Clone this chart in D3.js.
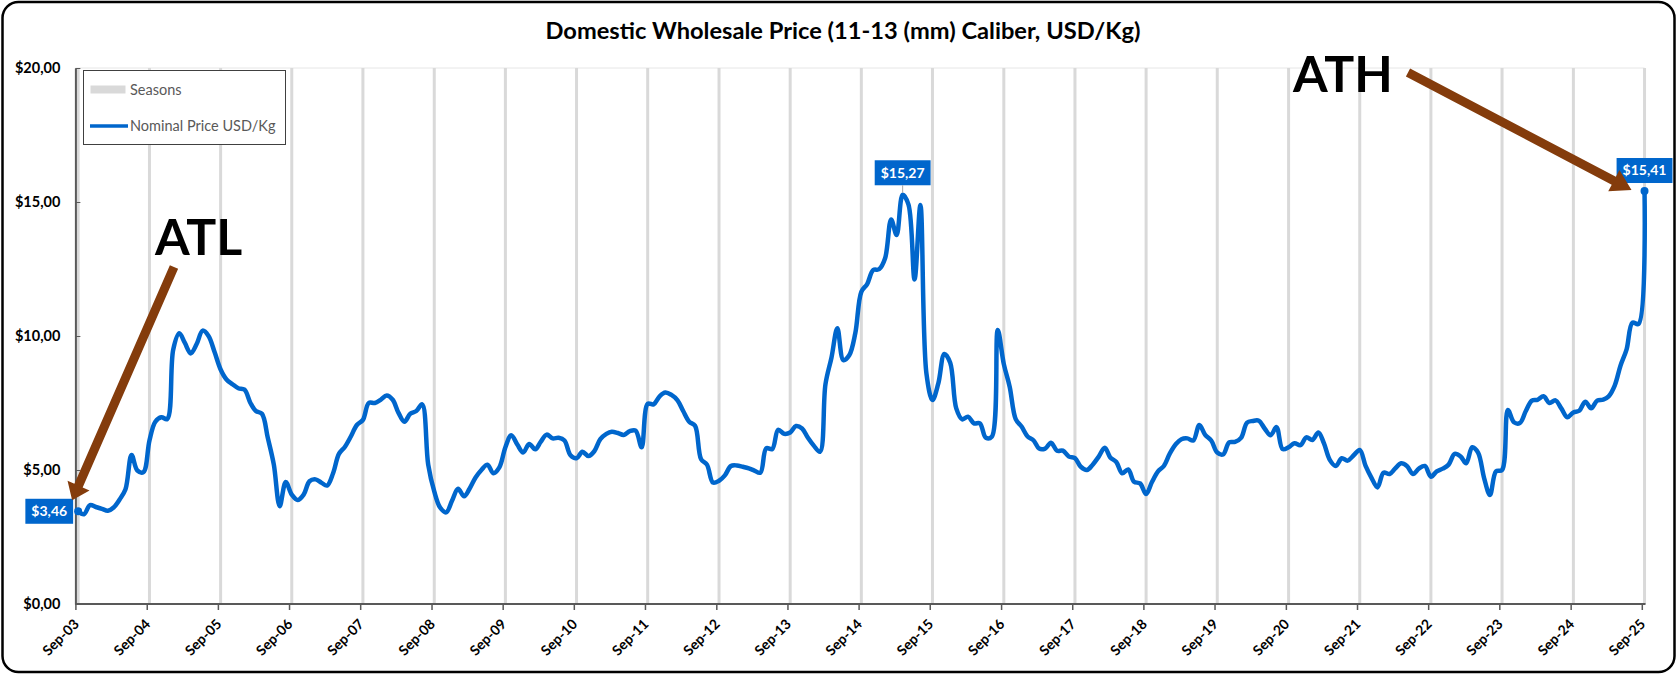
<!DOCTYPE html>
<html>
<head>
<meta charset="utf-8">
<script src="https://cdn.jsdelivr.net/npm/d3@7"></script>
<style>
body { margin: 0; background: #fff; }
svg text { font-family: Lato, "Open Sans", sans-serif; }
</style>
</head>
<body>
<svg id="chart" width="1677" height="675"></svg>
<script>
// Nominal price USD/Kg, one value per month starting Sep-03
var priceSep03 = [3.46, 3.35, 3.69, 3.62, 3.55, 3.48, 3.6, 3.9, 4.28, 5.56, 4.98, 4.92,
    6.1, 6.8, 6.97, 6.9, 9.5, 10.1, 9.75, 9.35, 9.7, 10.2, 10.0, 9.4,
    8.75, 8.38, 8.2, 8.05, 8.0, 7.5, 7.2, 7.1, 6.2, 5.2, 3.65, 4.55,
    4.08, 3.88, 4.08, 4.58, 4.65, 4.52, 4.42, 4.88, 5.6, 5.87, 6.25, 6.68,
    6.87, 7.5, 7.5, 7.62, 7.78, 7.62, 7.14, 6.8, 7.1, 7.2, 7.45, 5.2];
var priceSep08 = [4.2, 3.6, 3.42, 3.85, 4.3, 4.02, 4.3, 4.72, 5.0, 5.2, 4.88, 5.1,
    5.85, 6.3, 5.95, 5.65, 5.97, 5.77, 6.05, 6.32, 6.18, 6.2, 6.1, 5.55,
    5.44, 5.68, 5.52, 5.7, 6.15, 6.35, 6.43, 6.38, 6.31, 6.45, 6.47, 5.85,
    7.47, 7.45, 7.75, 7.89, 7.8, 7.6, 7.2, 6.8, 6.65, 5.4, 5.2, 4.53,
    4.6, 4.8, 5.15, 5.17, 5.12, 5.06, 4.98, 4.9, 5.81, 5.78, 6.5, 6.35];
var priceSep13 = [6.4, 6.64, 6.55, 6.2, 5.9, 5.68, 8.2, 9.2, 10.29, 9.1, 9.28, 10.1,
    11.65, 11.94, 12.46, 12.49, 12.9, 14.35, 13.77, 15.27, 14.9, 12.11, 14.89, 8.6,
    7.61, 8.23, 9.33, 9.0, 7.3, 6.89, 6.99, 6.74, 6.74, 6.2, 6.24, 10.22,
    8.95, 8.11, 6.9, 6.62, 6.25, 6.1, 5.8, 5.8, 6.02, 5.72, 5.72, 5.5,
    5.44, 5.12, 5.0, 5.2, 5.5, 5.83, 5.47, 5.3, 4.88, 5.02, 4.56, 4.5];
var priceSep18 = [4.1, 4.55, 4.95, 5.15, 5.62, 5.97, 6.15, 6.18, 6.1, 6.68, 6.31, 6.1,
    5.65, 5.58, 6.03, 6.05, 6.2, 6.77, 6.83, 6.84, 6.55, 6.3, 6.6, 5.78,
    5.85, 6.0, 5.93, 6.22, 6.12, 6.4, 6.0, 5.37, 5.15, 5.44, 5.35, 5.55,
    5.75, 5.15, 4.7, 4.35, 4.9, 4.85, 5.05, 5.25, 5.15, 4.85, 5.05, 5.15,
    4.75, 4.95, 5.05, 5.2, 5.6, 5.5, 5.25, 5.85, 5.65, 4.7, 4.07, 4.95];
var priceSep23 = [5.0, 7.24, 6.78, 6.75, 7.2, 7.59, 7.62, 7.75, 7.5, 7.6, 7.3, 6.97,
    7.15, 7.21, 7.55, 7.3, 7.59, 7.63, 7.75, 8.15, 8.9, 9.5, 10.5, 10.45, 15.41];

var seasonLabels = ["Sep-03", "Sep-04", "Sep-05", "Sep-06", "Sep-07", "Sep-08", "Sep-09", "Sep-10",
    "Sep-11", "Sep-12", "Sep-13", "Sep-14", "Sep-15", "Sep-16", "Sep-17", "Sep-18", "Sep-19",
    "Sep-20", "Sep-21", "Sep-22", "Sep-23", "Sep-24", "Sep-25"];
var yTickValues = [0, 5, 10, 15, 20];
var legendLabels = ["Seasons", "Nominal Price USD/Kg"];
var calloutLabels = ["ATL", "ATH"];

var BLUE = "#0066cc", BROWN = "#843c0c";

var price = priceSep03.concat(priceSep08, priceSep13, priceSep18, priceSep23);
var series = price.map(function(v, i) { return { date: new Date(2003, 8 + i, 15), value: v }; });

var locale = d3.formatLocale({ decimal: ",", thousands: ".", grouping: [3], currency: ["$", ""] });
var money = locale.format("$.2f");

var svg = d3.select("#chart");

// cadre arrondi
svg.append("rect")
.attr("x", 2.5).attr("y", 2).attr("width", 1672).attr("height", 670)
.attr("rx", 16).attr("ry", 16)
.attr("fill", "#fff").attr("stroke", "#000").attr("stroke-width", 2.5);

var x = d3.scaleTime()
.domain([new Date(2003, 8, 1), new Date(2025, 8, 1)])
.range([75.4, 1641.8]);

var y = d3.scaleLinear()
.domain([0, 20])
.range([604, 68]);

// titre
svg.append("text")
.attr("x", 843).attr("y", 39)
.attr("text-anchor", "middle")
.attr("textLength", 595).attr("lengthAdjust", "spacingAndGlyphs")
.style("font-size", "22px").style("font-weight", "bold")
.attr("fill", "#000")
.text("Domestic Wholesale Price (11-13 (mm) Caliber, USD/Kg)");

// ligne du haut ($20)
svg.append("line")
.attr("x1", x.range()[0]).attr("x2", x(new Date(2025, 8, 15)))
.attr("y1", y(20)).attr("y2", y(20))
.attr("stroke", "#e6e6e6").attr("stroke-width", 1);

// barres "Seasons" : une par septembre
svg.append("g").selectAll("line")
.data(seasonLabels)
.enter().append("line")
.attr("x1", function(d, i) { return x(new Date(2003 + i, 8, 15)); })
.attr("x2", function(d, i) { return x(new Date(2003 + i, 8, 15)); })
.attr("y1", y(20)).attr("y2", y(0))
.attr("stroke", "#d9d9d9").attr("stroke-width", 3);

// axe X
var xAxis = svg.append("g")
.attr("transform", "translate(0," + y(0) + ")")
.call(d3.axisBottom(x)
    .tickValues(seasonLabels.map(function(d, i) { return new Date(2003 + i, 8, 1); }))
    .tickFormat(function(d, i) { return seasonLabels[i]; })
    .tickSizeInner(6).tickSizeOuter(0));
xAxis.select(".domain").attr("stroke", "#595959").attr("stroke-width", 2)
.attr("d", "M" + x.range()[0] + ",0H" + (x(new Date(2025, 8, 15)) + 1));
xAxis.selectAll(".tick line").attr("stroke", "#595959").attr("stroke-width", 1.5);
xAxis.selectAll(".tick text")
.attr("x", 0).attr("y", 0).attr("dy", 0)
.attr("transform", "translate(4,21) rotate(-45)")
.style("text-anchor", "end")
.style("font-size", "14px").style("font-weight", "bold")
.attr("fill", "#000");

// axe Y
var yAxis = svg.append("g")
.attr("transform", "translate(" + x.range()[0] + ",0)")
.call(d3.axisLeft(y)
    .tickValues(yTickValues)
    .tickFormat(money)
    .tickSizeInner(-5).tickSizeOuter(0).tickPadding(15));
yAxis.select(".domain").attr("stroke", "#595959").attr("stroke-width", 2);
yAxis.selectAll(".tick line").attr("stroke", "#595959");
yAxis.selectAll(".tick text")
.style("font-size", "14.5px").style("font-weight", "bold")
.attr("fill", "#000");

// courbe du prix
var line = d3.line()
.x(function(d) { return x(d.date); })
.y(function(d) { return y(d.value); })
.curve(d3.curveCatmullRom);

svg.append("path")
.datum(series)
.attr("fill", "none")
.attr("stroke", BLUE)
.attr("stroke-width", 4.5)
.attr("stroke-linejoin", "round")
.attr("d", line);

var first = series[0],
last = series[series.length - 1],
peak = series[d3.maxIndex(price.slice(0, price.length - 1))];

svg.selectAll("circle.marker")
.data([first, last])
.enter().append("circle")
.attr("class", "marker")
.attr("cx", function(d) { return x(d.date); })
.attr("cy", function(d) { return y(d.value); })
.attr("r", 4)
.attr("fill", BLUE);

// étiquettes de valeur
function valueLabel(d, dx, dy) {
    var g = svg.append("g");
    var t = g.append("text")
    .attr("text-anchor", "middle")
    .attr("dy", "0.35em")
    .style("font-size", "14px").style("font-weight", "bold")
    .attr("fill", "#fff")
    .text(money(d.value));
    var w = t.node().getComputedTextLength() + 12, h = 25;
    g.insert("rect", "text")
    .attr("x", -w / 2).attr("y", -h / 2).attr("width", w).attr("height", h)
    .attr("fill", BLUE);
    g.attr("transform", "translate(" + (x(d.date) + dx(w)) + "," + (y(d.value) + dy) + ")");
    return g;
}
valueLabel(first, function(w) { return -w / 2 - 5; }, 0);
valueLabel(peak, function(w) { return 0; }, -22);
svg.append("line")
.attr("x1", x(peak.date)).attr("x2", x(peak.date))
.attr("y1", y(peak.value) - 9.5).attr("y2", y(peak.value) - 2)
.attr("stroke", "#a6a6a6").attr("stroke-width", 1);
valueLabel(last, function(w) { return 0; }, -20.5);

// flèches ATL / ATH
function arrow(x1, y1, x2, y2, w, headLen, headW) {
    var dx = x2 - x1, dy = y2 - y1, len = Math.sqrt(dx * dx + dy * dy);
    var ux = dx / len, uy = dy / len, px = -uy, py = ux;
    var bx = x2 - ux * headLen, by = y2 - uy * headLen;
    var pts = [
        [x1 + px * w / 2, y1 + py * w / 2],
        [bx + px * w / 2, by + py * w / 2],
        [bx + px * headW / 2, by + py * headW / 2],
        [x2, y2],
        [bx - px * headW / 2, by - py * headW / 2],
        [bx - px * w / 2, by - py * w / 2],
        [x1 - px * w / 2, y1 - py * w / 2]
    ];
    svg.append("polygon")
    .attr("points", pts.map(function(p) { return p.join(","); }).join(" "))
    .attr("fill", BROWN);
}
arrow(174, 267, x(first.date) - 6, y(first.value) - 11, 9, 16, 24);
arrow(1408, 72.5, x(last.date) - 13, y(last.value) - 1, 9, 20, 24);

svg.selectAll("text.callout")
.data(calloutLabels)
.enter().append("text")
.attr("class", "callout")
.attr("x", function(d, i) { return i == 0 ? 155 : 1293; })
.attr("y", function(d, i) { return i == 0 ? 255 : 91.5; })
.style("font-size", "50px").style("font-weight", "bold")
.attr("fill", "#000")
.text(function(d) { return d; });

// légende
var legend = svg.append("g");
legend.append("rect")
.attr("x", 83.5).attr("y", 70.5).attr("width", 202).attr("height", 74)
.attr("fill", "#fff").attr("stroke", "#404040").attr("stroke-width", 1);
legend.append("rect")
.attr("x", 90.5).attr("y", 85.5).attr("width", 35).attr("height", 8)
.attr("fill", "#d9d9d9");
legend.append("line")
.attr("x1", 90).attr("x2", 128).attr("y1", 126).attr("y2", 126)
.attr("stroke", BLUE).attr("stroke-width", 3.5);
legend.selectAll("text")
.data(legendLabels)
.enter().append("text")
.attr("x", 130)
.attr("y", function(d, i) { return i == 0 ? 89.5 : 126; })
.attr("dy", "0.35em")
.style("font-size", "14.5px")
.attr("fill", "#595959")
.text(function(d) { return d; });
</script>
</body>
</html>
